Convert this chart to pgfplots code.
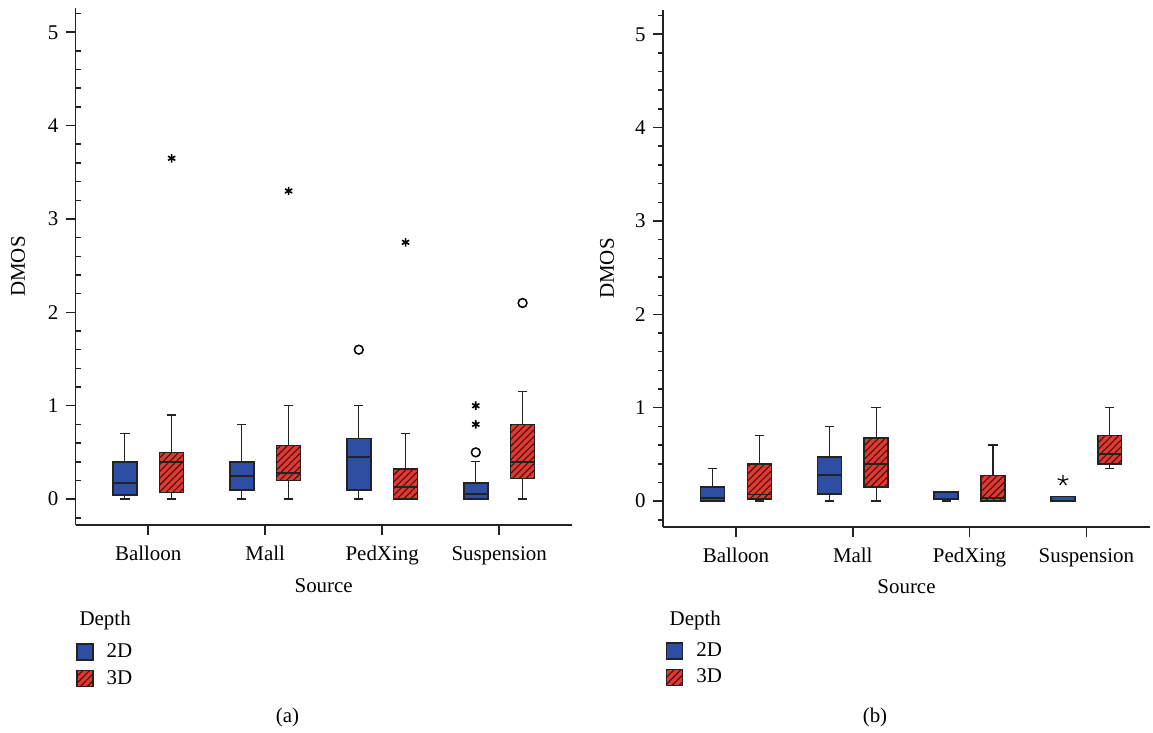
\documentclass[border=0pt]{standalone}
\usepackage{fontspec}
\setmainfont{Liberation Serif}
\usepackage{pgfplots}
\pgfplotsset{compat=1.18}
\usepgfplotslibrary{statistics}
\usetikzlibrary{patterns.meta}
\definecolor{twoD}{RGB}{45,78,162}
\definecolor{threeD}{RGB}{226,56,48}
\definecolor{hatch}{RGB}{60,20,20}
\definecolor{edge}{RGB}{35,35,35}

\pgfplotsset{
  dmos/.style={
    scale only axis,
    ymin=-0.278, ymax=5.26,
    ytick={0,1,2,3,4,5},
    minor ytick={-0.2,0.2,0.4,0.6,0.8,1.2,1.4,1.6,1.8,2.2,2.4,2.6,2.8,3.2,3.4,3.6,3.8,4.2,4.4,4.6,4.8,5.2},
    xtick={0,1,2,3},
    xticklabels={Balloon,Mall,PedXing,Suspension},
    axis x line*=bottom, axis y line*=left,
    axis line style={edge, line width=0.8bp},
    tick style={edge, line width=0.8bp},
    tick align=outside,
    major tick length=5bp, minor tick length=2.5bp,
    /pgf/number format/assume math mode=true,
    xticklabel style={yshift=-2bp},
    xlabel={Source},
    ylabel={DMOS},
    every axis x label/.style={at={(axis description cs:0.5,0)}, anchor=base, yshift=-33.5bp},
    every axis y label/.style={at={(axis description cs:0,0.5)}, anchor=center, rotate=90},
    boxplot/draw direction=y,
    boxplot/every whisker/.style={line width=0.6bp},
    boxplot/every median/.style={line width=0.9bp},
    legend image code/.code={\draw[#1] (0bp,-4bp) rectangle (8bp,4bp);},
    legend style={draw=none, fill=none, inner sep=0pt, row sep=4.5bp,
      nodes={inner sep=0pt, anchor=west},
      /tikz/every odd column/.style={column sep=6.5bp}},
    legend cell align=left,
  },
  b2/.style={draw=edge, fill=twoD, line width=0.8bp},
  b3/.style={draw=edge, fill=threeD, line width=0.8bp,
    boxplot/every box/.style={postaction={pattern={Lines[angle=45,distance=2.4bp,line width=0.55bp]}, pattern color=hatch}}},
}

\begin{document}
\fontsize{10.5}{12.6}\selectfont
\begin{tikzpicture}
\path[use as bounding box] (0,0) rectangle (576.5bp,366.5bp);

% ---------------- panel (a)
\begin{axis}[dmos,
  at={(37.85bp,104bp)}, anchor=south west,
  width=248bp, height=258.5bp,
  xmin=-0.62, xmax=3.62,
  every minor y tick/.append style={xshift=2.5bp},
  legend style={at={(axis description cs:0,-0.228)}, anchor=north west},
  every axis y label/.append style={at={(axis description cs:-0.116,0.5)}},
]
\addlegendimage{draw=edge, line width=0.8bp, fill=twoD}
\addlegendentry{2D}
\addlegendimage{draw=edge, line width=0.8bp, fill=threeD, postaction={pattern={Lines[angle=45,distance=2.4bp,line width=0.55bp]}, pattern color=hatch}}
\addlegendentry{3D}
% Balloon
\addplot[b2, forget plot, boxplot prepared={draw position=-0.2, lower whisker=0, lower quartile=0.043, median=0.171, upper quartile=0.40, upper whisker=0.70, box extend=0.205, whisker extend=0.08}] coordinates {};
\addplot[b3, forget plot, boxplot prepared={draw position=0.2, lower whisker=0, lower quartile=0.071, median=0.40, upper quartile=0.50, upper whisker=0.90, box extend=0.205, whisker extend=0.08}] coordinates {};
% Mall
\addplot[b2, forget plot, boxplot prepared={draw position=0.8, lower whisker=0, lower quartile=0.10, median=0.25, upper quartile=0.40, upper whisker=0.80, box extend=0.205, whisker extend=0.08}] coordinates {};
\addplot[b3, forget plot, boxplot prepared={draw position=1.2, lower whisker=0, lower quartile=0.20, median=0.28, upper quartile=0.575, upper whisker=1.00, box extend=0.205, whisker extend=0.08}] coordinates {};
% PedXing
\addplot[b2, forget plot, boxplot prepared={draw position=1.8, lower whisker=0, lower quartile=0.10, median=0.45, upper quartile=0.65, upper whisker=1.00, box extend=0.205, whisker extend=0.08}] coordinates {};
\addplot[b3, forget plot, boxplot prepared={draw position=2.2, lower whisker=0, lower quartile=0, median=0.125, upper quartile=0.325, upper whisker=0.70, box extend=0.205, whisker extend=0.08}] coordinates {};
% Suspension
\addplot[b2, forget plot, boxplot prepared={draw position=2.8, lower whisker=0, lower quartile=0, median=0.05, upper quartile=0.175, upper whisker=0.40, box extend=0.205, whisker extend=0.08}] coordinates {};
\addplot[b3, forget plot, boxplot prepared={draw position=3.2, lower whisker=0, lower quartile=0.22, median=0.40, upper quartile=0.80, upper whisker=1.15, box extend=0.205, whisker extend=0.08}] coordinates {};
% extremes and outliers
\addplot[forget plot, only marks, mark=asterisk, mark size=2.1bp, line width=0.8bp, black] coordinates {(0.2,3.65) (1.2,3.30) (2.2,2.75) (2.8,0.80) (2.8,1.00)};
\addplot[forget plot, only marks, mark=o, mark size=2.2bp, line width=0.75bp, black] coordinates {(1.8,1.60) (2.8,0.50) (3.2,2.10)};
\end{axis}
\node[anchor=base west, inner sep=0pt] at (39.6bp,53.5bp) {Depth};
\node at (143.75bp,8bp) {(a)};

% ---------------- panel (b)
\begin{axis}[dmos,
  at={(331.5bp,103bp)}, anchor=south west,
  width=243.5bp, height=258.5bp,
  xmin=-0.625, xmax=3.545,
  legend style={at={(axis description cs:0.005,-0.222)}, anchor=north west},
  every axis y label/.append style={at={(axis description cs:-0.115,0.5)}},
]
\addlegendimage{draw=edge, line width=0.8bp, fill=twoD}
\addlegendentry{2D}
\addlegendimage{draw=edge, line width=0.8bp, fill=threeD, postaction={pattern={Lines[angle=45,distance=2.4bp,line width=0.55bp]}, pattern color=hatch}}
\addlegendentry{3D}
% Balloon
\addplot[b2, forget plot, boxplot prepared={draw position=-0.2, lower whisker=0, lower quartile=0, median=0.03, upper quartile=0.15, upper whisker=0.35, box extend=0.205, whisker extend=0.08}] coordinates {};
\addplot[b3, forget plot, boxplot prepared={draw position=0.2, lower whisker=0, lower quartile=0.025, median=0.07, upper quartile=0.40, upper whisker=0.70, box extend=0.205, whisker extend=0.08}] coordinates {};
% Mall
\addplot[b2, forget plot, boxplot prepared={draw position=0.8, lower whisker=0, lower quartile=0.075, median=0.275, upper quartile=0.475, upper whisker=0.80, box extend=0.205, whisker extend=0.08}] coordinates {};
\addplot[b3, forget plot, boxplot prepared={draw position=1.2, lower whisker=0, lower quartile=0.15, median=0.40, upper quartile=0.675, upper whisker=1.00, box extend=0.205, whisker extend=0.08}] coordinates {};
% PedXing
\addplot[b2, forget plot, boxplot prepared={draw position=1.8, lower whisker=0, lower quartile=0.02, median=0.10, upper quartile=0.10, upper whisker=0.10, box extend=0.205, whisker extend=0.08}] coordinates {};
\addplot[b3, forget plot, boxplot prepared={draw position=2.2, lower whisker=0, lower quartile=0, median=0.03, upper quartile=0.275, upper whisker=0.60, box extend=0.205, whisker extend=0.08}] coordinates {};
% Suspension
\addplot[b2, forget plot, boxplot prepared={draw position=2.8, lower whisker=0, lower quartile=0, median=0, upper quartile=0.05, upper whisker=0.05, box extend=0.205, whisker extend=0.08}] coordinates {};
\addplot[b3, forget plot, boxplot prepared={draw position=3.2, lower whisker=0.35, lower quartile=0.40, median=0.50, upper quartile=0.70, upper whisker=1.00, box extend=0.205, whisker extend=0.08}] coordinates {};
\addplot[forget plot, only marks, mark=star, mark size=2.8bp, line width=0.6bp, black] coordinates {(2.8,0.22)};
\end{axis}
\node[anchor=base west, inner sep=0pt] at (334.65bp,53.5bp) {Depth};
\node at (437.5bp,8bp) {(b)};
\end{tikzpicture}
\end{document}
